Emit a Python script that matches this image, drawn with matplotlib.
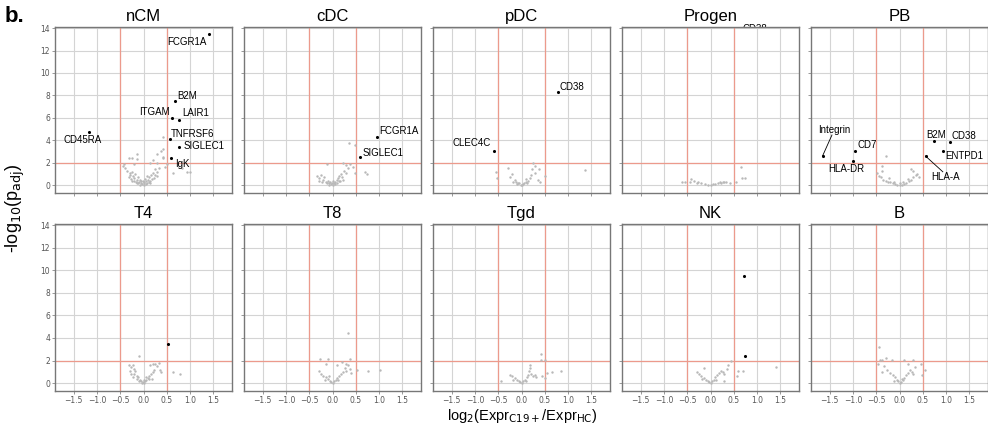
import matplotlib
matplotlib.use("Agg")
import matplotlib.pyplot as plt

# ---- data (log2 fold change, -log10 p_adj) ----
PANELS = ["nCM", "cDC", "pDC", "Progen", "PB", "T4", "T8", "Tgd", "NK", "B"]

ncm_x = [0.41, 0.41, 0.41, 0.29, 0.50, 0.64, 0.99, -0.31, -0.13, -0.45, -0.20, -0.42, -0.25,
         -0.14, 0.37, 0.42, 0.46, 0.21, 0.28, 0.14, 0.94, 0.82,
         -0.35, -0.30, -0.28, -0.25, -0.22, -0.20, -0.18, -0.15, -0.12, -0.10, -0.08, -0.05,
         -0.03, 0.00, 0.02, 0.05, 0.07, 0.10, 0.12, 0.15, 0.17, 0.20, 0.22, 0.25, 0.28, 0.30,
         -0.15, -0.08, 0.04, -0.02, 0.08, -0.25, 0.12, 0.33, -0.40,
         -0.32, -0.27, -0.21, -0.17, -0.11, -0.06, 0.01, 0.06, 0.14, 0.18, 0.24]
ncm_y = [4.25, 3.21, 2.46, 2.77, 1.87, 1.04, 1.21, 2.46, 2.30, 1.72, 1.86, 1.87, 2.41,
         2.77, 3.06, 2.50, 1.64, 2.23, 2.00, 2.00, 1.13, 1.57,
         1.30, 1.10, 0.90, 1.20, 0.80, 0.60, 1.00, 0.50, 0.70, 0.30, 0.50, 0.20,
         0.10, 0.05, 0.20, 0.35, 0.15, 0.50, 0.70, 0.40, 0.90, 1.10, 0.60, 1.40, 1.20, 0.80,
         0.15, 0.05, 0.55, 0.40, 0.80, 0.40, 0.25, 1.50, 1.50,
         0.70, 0.55, 0.35, 0.30, 0.20, 0.35, 0.30, 0.10, 0.20, 0.55, 0.90]

cdc_x = [0.35, 0.49, 0.23, 0.30, 0.37, -0.11, 0.43, 0.48, 0.69, 0.74, -0.33, -0.28,
         -0.30, -0.25, -0.20, -0.18, -0.15, -0.10, -0.07, -0.04, 0.00, 0.03, 0.06, 0.09,
         0.12, 0.15, 0.18, 0.20, 0.25, 0.28, -0.12, 0.02, 0.10, -0.22, 0.16, 0.33, -0.05,
         -0.08, -0.02, 0.05, 0.13, 0.22]
cdc_y = [3.72, 3.60, 2.00, 1.80, 1.90, 1.90, 1.60, 1.10, 1.20, 1.00, 0.80, 0.40,
         0.60, 0.90, 0.50, 0.70, 0.30, 0.40, 0.20, 0.10, 0.05, 0.15, 0.30, 0.45,
         0.60, 0.80, 1.00, 0.70, 1.30, 1.10, 0.15, 0.35, 0.20, 0.25, 0.40, 1.50, 0.30,
         0.05, 0.20, 0.10, 0.35, 0.50]

pdc_x = [1.36, 0.25, 0.30, 0.38, 0.23, 0.28, 0.51, -0.30, -0.54, -0.52, -0.20,
         -0.25, -0.15, -0.12, -0.08, -0.05, -0.02, 0.00, 0.03, 0.06, 0.09, 0.12, 0.15,
         0.18, 0.20, -0.18, 0.10, -0.10, 0.35, 0.40]
pdc_y = [1.37, 2.00, 1.67, 1.46, 1.40, 1.10, 0.83, 1.50, 1.13, 0.60, 1.00,
         0.70, 0.50, 0.30, 0.20, 0.15, 0.05, 0.00, 0.10, 0.20, 0.30, 0.20, 0.40,
         0.60, 0.90, 0.25, 0.55, 0.10, 0.50, 0.30]

progen_x = [0.65, 0.67, 0.74, -0.61, -0.54, -0.41, -0.35, -0.27, -0.20, -0.12, -0.05,
            0.00, 0.05, 0.10, 0.16, 0.23, 0.30, 0.34, 0.41, 0.55, -0.45, -0.30, 0.20, 0.27]
progen_y = [1.64, 0.60, 0.60, 0.24, 0.26, 0.54, 0.35, 0.24, 0.15, 0.10, 0.05,
            0.03, 0.08, 0.12, 0.15, 0.20, 0.25, 0.24, 0.22, 0.25, 0.30, 0.18, 0.30, 0.32]

pb_x = [-0.28, -0.37, -0.38, -0.48, -0.44, 0.30, 0.37, 0.41, 0.25,
        -0.40, -0.35, -0.30, -0.25, -0.20, -0.15, -0.10, -0.05, 0.00, 0.05, 0.10,
        0.15, 0.20, 0.25, 0.30, 0.35, -0.22, -0.12, 0.08, 0.18, 0.02]
pb_y = [2.60, 1.70, 1.25, 1.10, 0.80, 1.28, 1.00, 0.70, 1.45,
        0.70, 0.50, 0.40, 0.30, 0.25, 0.15, 0.10, 0.05, 0.02, 0.05, 0.12,
        0.20, 0.35, 0.50, 0.70, 0.90, 0.60, 0.30, 0.30, 0.55, 0.15]

t4_x = [-0.09, -0.32, -0.27, -0.23, -0.20, -0.28, -0.26, -0.18, 0.14, 0.20, 0.25, 0.28,
        0.34, 0.35, 0.38, 0.64, 0.78, -0.20, -0.15, -0.12, -0.08, -0.05, -0.02, 0.00,
        0.03, 0.06, 0.09, 0.12, 0.16, 0.20, 0.23, -0.10, 0.05, 0.18, -0.22,
        -0.13, -0.04, 0.02, 0.11]
t4_y = [2.40, 1.60, 1.45, 1.60, 1.25, 1.05, 0.85, 1.05, 1.60, 1.65, 1.65, 1.50,
        1.76, 1.20, 1.00, 1.02, 0.82, 0.80, 0.60, 0.50, 0.30, 0.20, 0.10, 0.05,
        0.15, 0.30, 0.45, 0.60, 0.80, 1.00, 1.20, 0.15, 0.50, 0.40, 0.55,
        0.35, 0.05, 0.25, 0.35]

t8_x = [0.33, -0.26, -0.09, 0.38, -0.13, 0.09, 0.21, 0.28, 0.33, 0.37, 0.52, 0.76, 1.01,
        -0.28, -0.24, -0.20, -0.15, -0.10, -0.06, -0.03, 0.00, 0.03, 0.07, 0.10, 0.14,
        0.18, 0.22, 0.26, 0.30, -0.17, 0.12, 0.40, -0.08]
t8_y = [4.40, 2.10, 2.10, 2.10, 1.70, 1.60, 1.85, 1.70, 1.60, 1.25, 1.17, 1.10, 1.17,
        1.10, 0.80, 0.60, 0.50, 0.35, 0.20, 0.10, 0.05, 0.15, 0.30, 0.45, 0.60,
        0.80, 1.00, 1.30, 1.10, 0.30, 0.25, 0.90, 0.60]

tgd_x = [0.42, 0.42, 0.50, 0.19, 0.18, 0.16, 0.55, 0.65, 0.85, 0.45, 0.51, -0.43,
         -0.25, -0.20, -0.15, -0.10, -0.06, -0.03, 0.00, 0.04, 0.08, 0.12, 0.15, 0.20,
         0.24, 0.28, -0.18, 0.10, 0.32]
tgd_y = [2.60, 2.05, 2.05, 1.60, 1.30, 1.10, 0.90, 1.00, 1.03, 0.60, 0.45, 0.20,
         0.70, 0.60, 0.45, 0.30, 0.20, 0.10, 0.05, 0.15, 0.30, 0.50, 0.70, 0.85,
         0.60, 0.75, 0.30, 0.20, 0.50]

nk_x = [0.45, 0.37, 0.35, 0.60, 0.70, 0.57, 1.40, 0.28, -0.30, -0.13,
        -0.25, -0.20, -0.15, -0.10, -0.06, -0.03, 0.00, 0.03, 0.07, 0.10, 0.14,
        0.18, 0.22, 0.26, -0.18, 0.12, 0.30]
nk_y = [1.97, 1.56, 1.25, 1.10, 1.10, 0.65, 1.47, 0.23, 1.00, 1.30,
        0.80, 0.60, 0.45, 0.30, 0.20, 0.10, 0.05, 0.15, 0.30, 0.50, 0.70,
        0.90, 1.10, 1.00, 0.35, 0.25, 0.80]

b_x = [-0.44, -0.42, -0.37, -0.30, -0.17, 0.10, 0.29, 0.47, 0.54, 0.48, -0.46, -0.33,
       -0.38, -0.26, 0.18, 0.34, -0.20, -0.15, -0.10, -0.06, -0.03, 0.00, 0.03, 0.07,
       0.10, 0.14, 0.18, 0.22, 0.26, 0.30, -0.12, 0.05]
b_y = [3.20, 2.05, 2.05, 2.20, 2.05, 2.05, 2.05, 1.70, 1.17, 0.73, 1.70, 1.50,
       1.00, 1.20, 1.70, 1.47, 0.90, 0.70, 0.50, 0.30, 0.15, 0.05, 0.10, 0.25,
       0.45, 0.70, 0.90, 1.20, 1.00, 0.80, 0.20, 0.40]

GREY = {"nCM": (ncm_x, ncm_y), "cDC": (cdc_x, cdc_y), "pDC": (pdc_x, pdc_y),
        "Progen": (progen_x, progen_y), "PB": (pb_x, pb_y), "T4": (t4_x, t4_y),
        "T8": (t8_x, t8_y), "Tgd": (tgd_x, tgd_y), "NK": (nk_x, nk_y), "B": (b_x, b_y)}

# significant hits: (gene, log2FC, -log10 padj); empty gene -> unlabelled dot
ncm_hits = [("FCGR1A", 1.40, 13.5), ("B2M", 0.68, 7.46), ("ITGAM", 0.61, 5.98),
            ("LAIR1", 0.76, 5.83), ("TNFRSF6", 0.57, 4.10), ("SIGLEC1", 0.77, 3.36),
            ("IgK", 0.59, 2.46), ("CD45RA", -1.16, 4.76)]
cdc_hits = [("FCGR1A", 0.96, 4.32), ("SIGLEC1", 0.58, 2.53)]
pdc_hits = [("CD38", 0.79, 8.27), ("CLEC4C", -0.60, 3.07)]
pb_hits = [("Integrin", -1.65, 2.62), ("CD7", -0.95, 3.07), ("HLA-DR", -1.00, 2.11),
           ("B2M", 0.75, 3.90), ("CD38", 1.09, 3.84), ("ENTPD1", 0.93, 3.07),
           ("HLA-A", 0.56, 2.59)]
t4_hits = [("", 0.52, 3.43)]
nk_hits = [("", 0.71, 9.50), ("", 0.73, 2.40)]
HITS = {"nCM": ncm_hits, "cDC": cdc_hits, "pDC": pdc_hits, "PB": pb_hits,
        "T4": t4_hits, "NK": nk_hits}

# label placement (data offsets dx, dy, ha, with leader line?)
LABEL_POS = {
    ("nCM", "FCGR1A"): (-0.05, -0.7, "right", False),
    ("nCM", "B2M"): (0.04, 0.45, "left", False),
    ("nCM", "ITGAM"): (-0.05, 0.55, "right", False),
    ("nCM", "LAIR1"): (0.08, 0.6, "left", False),
    ("nCM", "TNFRSF6"): (0.02, 0.5, "left", False),
    ("nCM", "SIGLEC1"): (0.08, 0.1, "left", False),
    ("nCM", "IgK"): (0.08, -0.6, "left", False),
    ("nCM", "CD45RA"): (-0.14, -0.75, "center", False),
    ("cDC", "FCGR1A"): (0.05, 0.5, "left", False),
    ("cDC", "SIGLEC1"): (0.06, 0.35, "left", False),
    ("pDC", "CD38"): (0.03, 0.45, "left", False),
    ("pDC", "CLEC4C"): (-0.05, 0.65, "right", False),
    ("PB", "Integrin"): (0.25, 2.3, "center", True),
    ("PB", "CD7"): (0.05, 0.5, "left", False),
    ("PB", "HLA-DR"): (-0.15, -0.7, "center", False),
    ("PB", "B2M"): (0.03, 0.55, "center", False),
    ("PB", "CD38"): (0.02, 0.5, "left", False),
    ("PB", "ENTPD1"): (0.05, -0.5, "left", False),
    ("PB", "HLA-A"): (0.42, -1.85, "center", True),
}

XTICKS = [-1.5, -1.0, -0.5, 0.0, 0.5, 1.0, 1.5]
YTICKS = [0, 2, 4, 6, 8, 10, 12, 14]

W, H = 988, 433
LEFTS = [55, 244, 433, 622, 811]
PW = 177
ROWS = [(27, 193), (224, 391)]
RED = "#ec9a8c"
LABEL_FONT = ["Liberation Sans", "DejaVu Sans"]

fig = plt.figure(figsize=(W / 100, H / 100), dpi=100)
fig.patch.set_facecolor("white")

for k, name in enumerate(PANELS):
    r, c = divmod(k, 5)
    top, bot = ROWS[r]
    ax = fig.add_axes([LEFTS[c] / W, (H - bot) / H, PW / W, (bot - top) / H])
    ax.set_xlim(-1.9, 1.9)
    ax.set_ylim(-0.7, 14.1)
    ax.set_xticks(XTICKS)
    ax.set_yticks(YTICKS)
    ax.grid(True, color="#d4d4d4", linewidth=0.8)
    ax.set_axisbelow(True)
    for v in (-0.5, 0.5):
        ax.axvline(v, color=RED, linewidth=0.9, zorder=1)
    ax.axhline(2, color=RED, linewidth=0.9, zorder=1)
    for s in ax.spines.values():
        s.set_color("#777777")
        s.set_linewidth(1.0)
    ax.tick_params(labelsize=5.5, labelcolor="#555555", color="#888888",
                   length=2, width=0.6, pad=1.5)
    if r == 0:
        ax.tick_params(labelbottom=False)
    if c != 0:
        ax.tick_params(labelleft=False)
    ax.set_title(name, fontsize=12, family=LABEL_FONT, pad=4)

    gx, gy = GREY[name]
    ax.scatter(gx, gy, s=3, color="#b8b8b8", linewidths=0, zorder=3)

    for gene, x, y in HITS.get(name, []):
        ax.scatter([x], [y], s=5, color="black", linewidths=0, zorder=4)
        if not gene:
            continue
        dx, dy, ha, line = LABEL_POS[(name, gene)]
        tx, ty = x + dx, y + dy
        ax.text(tx, ty, gene, fontsize=7, ha=ha, va="center", family=LABEL_FONT, zorder=5)
        if line:
            ax.plot([x, tx - 0.05 if tx > x else tx + 0.05],
                    [y, ty - 0.45 if ty > y else ty + 0.45],
                    color="black", linewidth=0.6, zorder=4)

    if name == "Progen":
        # label of an off-scale point, half hidden behind the panel
        fig.text(0.95, 13.9, "CD38", fontsize=7, ha="center", va="center",
                 family=LABEL_FONT, transform=ax.transData, zorder=-1)

fig.text(5 / W, 1 - 16 / H, "b.", fontsize=16, fontweight="bold", family=LABEL_FONT,
         va="center")
fig.text(15 / W, 1 - 208 / H, r"-log$_{10}$(p$_{\mathrm{adj}}$)", fontsize=13,
         rotation=90, ha="center", va="center", family=LABEL_FONT)
fig.text(522 / W, 1 - 416 / H,
         r"log$_2$(Expr$_{\mathrm{C19+}}$/Expr$_{\mathrm{HC}}$)",
         fontsize=10.5, ha="center", va="center", family=LABEL_FONT)

fig.savefig("out.png", dpi=100, facecolor="white")
